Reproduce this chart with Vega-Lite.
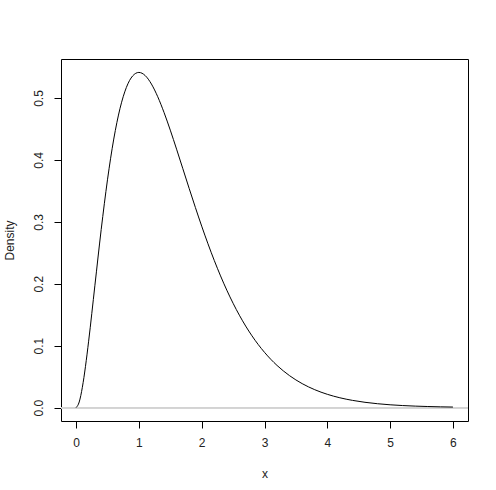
{
  "$schema": "https://vega.github.io/schema/vega-lite/v6.json",
  "width": 407,
  "height": 362,
  "autosize": "none",
  "padding": {"left": 61, "top": 59, "right": 28, "bottom": 69},
  "background": "white",
  "config": {
    "view": {"stroke": "black", "strokeWidth": 1},
    "font": "Liberation Sans",
    "axis": {
      "domain": false,
      "grid": false,
      "tickColor": "black",
      "tickSize": 7,
      "tickWidth": 1,
      "labelColor": "#222222",
      "labelFont": "Liberation Sans",
      "labelFontSize": 12,
      "titleFont": "Liberation Sans",
      "titleFontSize": 12,
      "titleFontWeight": "normal",
      "titleColor": "#222222"
    }
  },
  "data": {
    "values": [
      {"x": 0, "y": 0},
      {"x": 0.05, "y": 0.00905},
      {"x": 0.1, "y": 0.03275},
      {"x": 0.15, "y": 0.06667},
      {"x": 0.2, "y": 0.10725},
      {"x": 0.3, "y": 0.19757},
      {"x": 0.4, "y": 0.28757},
      {"x": 0.5, "y": 0.36788},
      {"x": 0.6, "y": 0.43371},
      {"x": 0.7, "y": 0.48333},
      {"x": 0.8, "y": 0.51686},
      {"x": 0.9, "y": 0.53557},
      {"x": 1.0, "y": 0.54134},
      {"x": 1.1, "y": 0.53629},
      {"x": 1.2, "y": 0.52253},
      {"x": 1.3, "y": 0.50209},
      {"x": 1.4, "y": 0.47675},
      {"x": 1.5, "y": 0.44808},
      {"x": 1.6, "y": 0.4174},
      {"x": 1.7, "y": 0.38579},
      {"x": 1.8, "y": 0.35411},
      {"x": 1.9, "y": 0.32304},
      {"x": 2.0, "y": 0.29305},
      {"x": 2.1, "y": 0.26453},
      {"x": 2.2, "y": 0.23769},
      {"x": 2.3, "y": 0.2127},
      {"x": 2.4, "y": 0.18961},
      {"x": 2.5, "y": 0.16845},
      {"x": 2.6, "y": 0.14917},
      {"x": 2.7, "y": 0.1317},
      {"x": 2.8, "y": 0.11597},
      {"x": 2.9, "y": 0.10185},
      {"x": 3.0, "y": 0.08924},
      {"x": 3.2, "y": 0.06806},
      {"x": 3.4, "y": 0.0515},
      {"x": 3.6, "y": 0.0387},
      {"x": 3.8, "y": 0.02891},
      {"x": 4.0, "y": 0.02147},
      {"x": 4.2, "y": 0.01587},
      {"x": 4.4, "y": 0.01167},
      {"x": 4.6, "y": 0.00855},
      {"x": 4.8, "y": 0.00624},
      {"x": 5.0, "y": 0.00454},
      {"x": 5.2, "y": 0.00329},
      {"x": 5.4, "y": 0.00238},
      {"x": 5.6, "y": 0.00172},
      {"x": 5.8, "y": 0.00123},
      {"x": 6.0, "y": 0.00088}
    ]
  },
  "layer": [
    {
      "mark": {"type": "rule", "color": "#D3D3D3", "strokeWidth": 1},
      "encoding": {
        "y": {"datum": 0, "type": "quantitative", "scale": {"domain": [-0.02165, 0.563], "nice": false, "zero": false}}
      }
    },
    {
      "mark": {"type": "line", "color": "black", "strokeWidth": 1, "interpolate": "monotone"},
      "encoding": {
        "x": {
          "field": "x", "type": "quantitative",
          "scale": {"domain": [-0.24, 6.24], "nice": false, "zero": false},
          "axis": {"values": [0, 1, 2, 3, 4, 5, 6], "format": "d", "title": "x", "labelPadding": 9, "titlePadding": 20}
        },
        "y": {
          "field": "y", "type": "quantitative",
          "scale": {"domain": [-0.02165, 0.563], "nice": false, "zero": false},
          "axis": {"values": [0, 0.1, 0.2, 0.3, 0.4, 0.5], "format": ".1f", "title": "Density", "labelAngle": 270, "labelAlign": "center", "labelBaseline": "bottom", "labelPadding": 9, "titlePadding": 16}
        }
      }
    }
  ]
}
